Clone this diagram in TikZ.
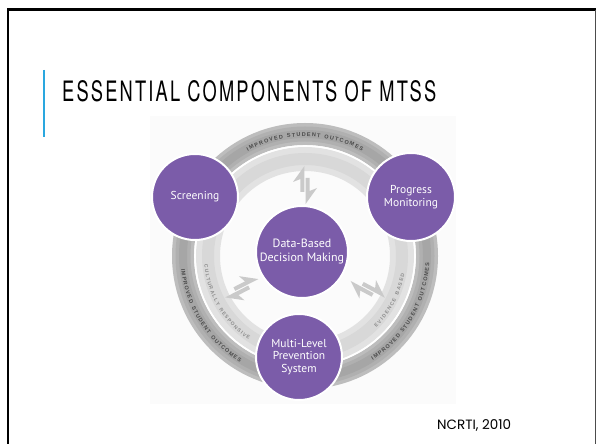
\documentclass[tikz,border=0pt]{standalone}
\usepackage{fontspec}
\setmainfont{PT Sans}
\newfontfamily\titlefont[LetterSpace=12]{TeX Gyre Heros}
\newfontfamily\notefont{Poppins}
\newfontfamily\bandfont{Liberation Sans}
\usetikzlibrary{decorations.text,calc}

\definecolor{mtpurple}{HTML}{7B5CA9}
\definecolor{titlebar}{HTML}{2AA7DF}
\definecolor{panel}{HTML}{FBFBFB}
\definecolor{darkbandA}{HTML}{BDBDBD}
\definecolor{darkbandB}{HTML}{B0B0B0}
\definecolor{darkbandC}{HTML}{A6A6A6}
\definecolor{lightbandA}{HTML}{E2E2E2}
\definecolor{lightbandB}{HTML}{D8D8D8}
\definecolor{harpoon}{HTML}{CACACA}
\definecolor{outertext}{HTML}{4A4A4A}
\definecolor{innertext}{HTML}{8C8C8C}

\tikzset{
  component/.style={circle, fill=mtpurple, draw=white, line width=2pt,
    inner sep=0pt, text=white, align=center,
    font=\fontsize{11.5}{12.5}\selectfont},
  outerlabel/.style={decorate, decoration={text along path,
    text={|\bandfont\bfseries\fontsize{5.5}{6.5}\selectfont|#1},
    text align={fit to path}, text color=outertext}},
  innerlabel/.style={decorate, decoration={text along path,
    text={|\bandfont\bfseries\fontsize{5}{6}\selectfont|#1},
    text align={fit to path}, text color=innertext}},
}

\begin{document}
\begin{tikzpicture}[x=1pt,y=1pt]
\useasboundingbox (0,0) rectangle (596,444);
\fill[white] (0,0) rectangle (596,444);

% faint panel behind the cycle graphic
\fill[panel] (150,40) rectangle (456,328);

% slide frame
\draw[black, line width=3pt] (7,434) -- (596,434);
\draw[black, line width=2.5pt] (8,435) -- (8,0);
\draw[black!70, line width=1pt] (595,434) -- (595,0);

% title with accent bar
\draw[titlebar, line width=2.5pt] (44,374) -- (44,307);
\node[anchor=base west, inner sep=0pt] (title) at (62,342)
  {\resizebox{374pt}{21pt}{\titlefont ESSENTIAL COMPONENTS OF MTSS}};

% centre of the ring
\coordinate (C) at (305,188);

% light inner band
\draw[lightbandA, line width=24pt] (C) circle (97);
\draw[lightbandB, line width=12pt] (C) circle (97);
% dark outer band
\draw[darkbandA, line width=22pt] (C) circle (122);
\draw[darkbandB, line width=15pt] (C) circle (122);
\draw[darkbandC, line width=8pt] (C) circle (122);
% white seam between the bands
\draw[white, line width=1.6pt] (C) circle (110);

% ring captions
\path[outerlabel={IMPROVED STUDENT OUTCOMES}]
  ([shift={(118.6:119.5)}]C) arc (118.6:61.4:119.5);
\path[outerlabel={IMPROVED STUDENT OUTCOMES}]
  ([shift={(186:124.5)}]C) arc (186:238.5:124.5);
\path[outerlabel={IMPROVED STUDENT OUTCOMES}]
  ([shift={(303:124.5)}]C) arc (303:357:124.5);
\path[innerlabel={CULTURALLY RESPONSIVE}]
  ([shift={(185:101)}]C) arc (185:236:101);
\path[innerlabel={EVIDENCE BASED}]
  ([shift={(315:101)}]C) arc (315:350:101);

% paired half-arrows between the centre and the ring
\foreach \a in {90,207,332}{
  \begin{scope}[shift={(C)}, rotate=\a]
    \fill[harpoon] (64,0.6) -- (90,0.6) -- (74,12) -- (77,4.6) -- (64,4.6) -- cycle;
    \fill[harpoon] (78,-0.6) -- (52,-0.6) -- (68,-12) -- (65,-4.6) -- (78,-4.6) -- cycle;
  \end{scope}
}

% components
\node[component, minimum size=86pt] (screen) at (195,247) {Screening};
\node[component, minimum size=88pt] (progress) at (411,247) {Progress\\Monitoring};
\node[component, minimum size=86pt] (multi) at (299,87) {Multi-Level\\Prevention\\System};
\node[component, minimum size=92pt, font=\fontsize{12}{14}\selectfont] (data) at (302,192)
  {Data-Based\\Decision Making};

% source note
\node[anchor=base west, inner sep=0pt] (source) at (437,15)
  {\resizebox{74pt}{!}{\notefont NCRTI, 2010}};
\end{tikzpicture}
\end{document}
